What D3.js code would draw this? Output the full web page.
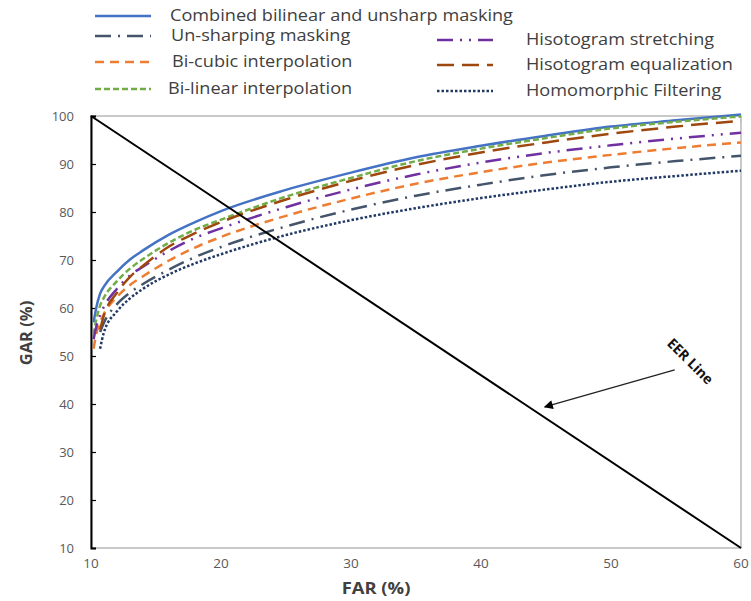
<!DOCTYPE html>
<html lang="en">
<head>
    <meta charset="UTF-8" />
    <title>GAR vs FAR</title>
    <script src="https://d3js.org/d3.v7.min.js"></script>
    <style>
        body { margin: 0; background: #fff; }
        text { font-family: "Open Sans", sans-serif; }
    </style>
</head>
<body>
    <script>
        var w = 751;
        var h = 601;

        // FAR sample points shared by all curves (null = curve not drawn there)
        var far = [10.2, 10.4, 10.7, 11, 12, 13, 14, 16, 18, 20, 25, 30, 35, 40, 45, 50, 55, 60];

        var combined   = [57, 60, 63, 64.5, 67.6, 70.1, 72, 75.3, 77.9, 80.2, 84.6, 88.2, 91.4, 93.8, 95.9, 97.8, 99.1, 100.3];
        var unsharp    = [null, null, 55, 57, 60.8, 63.2, 65, 68, 70.6, 72.7, 77, 80.5, 83.4, 85.7, 87.7, 89.3, 90.6, 91.7];
        var bicubic    = [51.5, 54.5, 57, 58.8, 62.3, 64.8, 66.6, 69.9, 72.6, 74.8, 79.2, 82.8, 85.9, 88.3, 90.3, 91.9, 93.3, 94.5];
        var bilinear   = [54.5, 57.5, 60.5, 62.2, 65.6, 68.2, 70.2, 73.6, 76.3, 78.4, 83.2, 87.1, 90.6, 93.2, 95.4, 97.4, 98.8, 99.9];
        var stretching = [53.5, 56, 58.5, 60.3, 64, 66.8, 68.6, 71.9, 74.6, 76.6, 81, 84.7, 87.8, 90.3, 92.3, 93.9, 95.3, 96.5];
        var equalize   = [null, null, 55.5, 58.5, 63.2, 66.5, 68.8, 72.8, 75.6, 77.9, 82.6, 86.5, 89.8, 92.4, 94.5, 96.3, 97.8, 99.0];
        var homomorph  = [null, null, 51.5, 55, 59.3, 62, 64, 67, 69.3, 71.2, 75.2, 78.3, 80.8, 82.9, 84.7, 86.3, 87.5, 88.6];

        // EER line end points
        var eerFar = [10, 60];
        var eerGar = [100, 10];

        var xTicks = [10, 20, 30, 40, 50, 60];
        var yTicks = [10, 20, 30, 40, 50, 60, 70, 80, 90, 100];

        var series = [
            { name: "Combined bilinear and unsharp masking", values: combined,   color: "#4472c4", dash: null,           col: 0, row: 0 },
            { name: "Un-sharping masking",                   values: unsharp,    color: "#44546a", dash: "16,7,2,7",     col: 0, row: 1 },
            { name: "Bi-cubic interpolation",                values: bicubic,    color: "#ed7d31", dash: "9,6",          col: 0, row: 2 },
            { name: "Bi-linear interpolation",               values: bilinear,   color: "#70ad47", dash: "6,3",          col: 0, row: 3 },
            { name: "Hisotogram stretching",                 values: stretching, color: "#7030a0", dash: "16,7,2,7,2,7", col: 1, row: 0 },
            { name: "Hisotogram equalization",               values: equalize,   color: "#9e480e", dash: "17,8",         col: 1, row: 1 },
            { name: "Homomorphic Filtering",                 values: homomorph,  color: "#203864", dash: "2.5,2",        col: 1, row: 2 }
        ];

        var svg = d3.select("body")
            .append("svg")
            .attr("width", w)
            .attr("height", h);

        var xScale = d3.scaleLinear().domain([10, 60]).range([91, 741]);
        var yScale = d3.scaleLinear().domain([10, 100]).range([548, 116]);

        // frame (gray) on top, right, bottom
        svg.append("rect")
            .attr("x", xScale(10))
            .attr("y", yScale(100))
            .attr("width", xScale(60) - xScale(10))
            .attr("height", yScale(10) - yScale(100))
            .attr("fill", "none")
            .attr("stroke", "#a6a6a6")
            .attr("stroke-width", 1.2);

        // y axis: black line, inner ticks
        var yAxis = d3.axisRight(yScale).tickValues(yTicks).tickSize(5).tickFormat("");
        svg.append("g")
            .attr("transform", "translate(" + xScale(10) + ",0)")
            .call(yAxis)
            .call(function(g) {
                g.select(".domain").attr("stroke", "#000").attr("stroke-width", 2);
                g.selectAll(".tick line").attr("stroke", "#000").attr("stroke-width", 1.2);
            });

        // y tick labels
        svg.selectAll(".ylab")
            .data(yTicks)
            .enter()
            .append("text")
            .attr("x", 74)
            .attr("y", function(d) { return yScale(d); })
            .attr("dy", "0.35em")
            .attr("text-anchor", "end")
            .attr("font-size", 13)
            .attr("fill", "#595959")
            .text(function(d) { return d; });

        // x tick labels
        svg.selectAll(".xlab")
            .data(xTicks)
            .enter()
            .append("text")
            .attr("x", function(d) { return xScale(d); })
            .attr("y", 563)
            .attr("dy", "0.35em")
            .attr("text-anchor", "middle")
            .attr("font-size", 13.5)
            .attr("fill", "#595959")
            .text(function(d) { return d; });

        // axis titles (the reference text is a little stretched sideways)
        svg.append("text")
            .attr("transform", "translate(376,588) scale(1.15,1)")
            .attr("dy", "0.35em")
            .attr("text-anchor", "middle")
            .attr("font-size", 16)
            .attr("font-weight", "bold")
            .attr("fill", "#404040")
            .text("FAR (%)");

        svg.append("text")
            .attr("transform", "translate(26,333) rotate(-90) scale(1.1,1.1)")
            .attr("dy", "0.35em")
            .attr("text-anchor", "middle")
            .attr("font-size", 15)
            .attr("font-weight", "bold")
            .attr("fill", "#404040")
            .text("GAR (%)");

        // curves
        var line = d3.line()
            .defined(function(d) { return d[1] != null; })
            .x(function(d) { return xScale(d[0]); })
            .y(function(d) { return yScale(d[1]); })
            .curve(d3.curveMonotoneX);

        series.forEach(function(s) {
            svg.append("path")
                .datum(far.map(function(f, i) { return [f, s.values[i]]; }))
                .attr("d", line)
                .attr("fill", "none")
                .attr("stroke", s.color)
                .attr("stroke-width", 2.5)
                .attr("stroke-dasharray", s.dash);
        });

        // EER line
        svg.append("path")
            .datum(eerFar.map(function(f, i) { return [f, eerGar[i]]; }))
            .attr("d", d3.line().x(function(d) { return xScale(d[0]); }).y(function(d) { return yScale(d[1]); }))
            .attr("stroke", "#000")
            .attr("stroke-width", 2)
            .attr("fill", "none");

        // EER annotation with arrow
        svg.append("defs").append("marker")
            .attr("id", "arrow")
            .attr("viewBox", "0 0 10 10")
            .attr("refX", 9)
            .attr("refY", 5)
            .attr("markerWidth", 10)
            .attr("markerHeight", 9)
            .attr("orient", "auto")
            .attr("markerUnits", "userSpaceOnUse")
            .append("path")
            .attr("d", "M0,0 L10,5 L0,10 z")
            .attr("fill", "#000");

        svg.append("line")
            .attr("x1", xScale(54.9))
            .attr("y1", yScale(47.1))
            .attr("x2", xScale(44.9))
            .attr("y2", yScale(39.4))
            .attr("stroke", "#222")
            .attr("stroke-width", 1.3)
            .attr("marker-end", "url(#arrow)");

        svg.append("text")
            .attr("transform", "translate(" + xScale(56.1) + "," + yScale(48.9) + ") rotate(45)")
            .attr("dy", "0.35em")
            .attr("text-anchor", "middle")
            .attr("font-size", 14)
            .attr("font-weight", "bold")
            .attr("fill", "#111")
            .text("EER Line");

        // legend
        var legX = [95, 437];
        var legY = [[16, 36, 62, 89], [40, 65, 91]];
        var textX = [[170, 171, 172, 168], [526, 526, 526]];

        series.forEach(function(s) {
            var y = legY[s.col][s.row];
            svg.append("line")
                .attr("x1", legX[s.col])
                .attr("x2", legX[s.col] + 56)
                .attr("y1", y)
                .attr("y2", y)
                .attr("stroke", s.color)
                .attr("stroke-width", 2.5)
                .attr("stroke-dasharray", s.dash);
            svg.append("text")
                .attr("transform", "translate(" + textX[s.col][s.row] + "," + y + ") scale(1.17,1)")
                .attr("dy", "0.35em")
                .attr("font-size", 15.5)
                .attr("fill", "#404040")
                .text(s.name);
        });
    </script>
</body>
</html>
